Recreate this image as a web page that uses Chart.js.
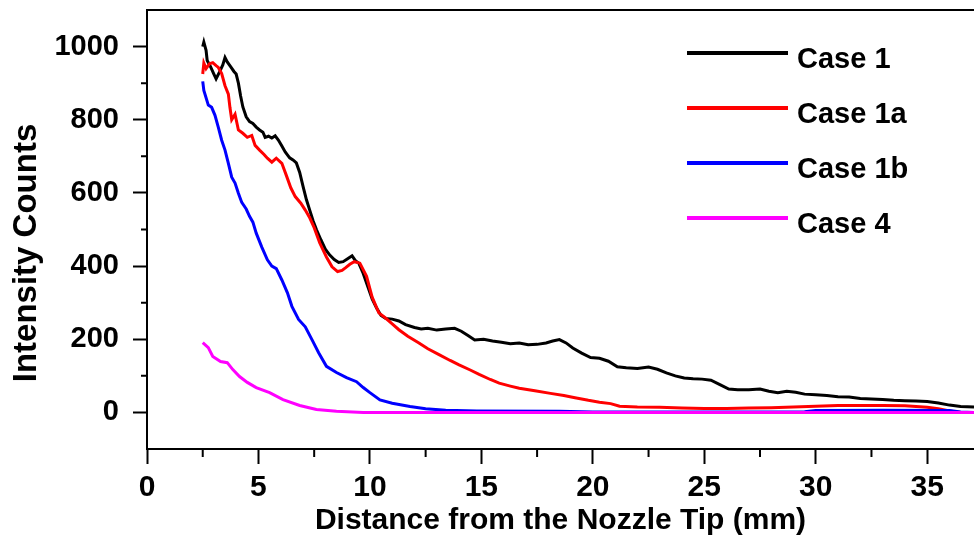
<!DOCTYPE html>
<html>
<head>
<meta charset="utf-8">
<script src="https://cdn.jsdelivr.net/npm/chart.js@4.4.1/dist/chart.umd.min.js"></script>
<style>
  html, body { margin: 0; padding: 0; background: #fff; }
  canvas { display: block; }
</style>
</head>
<body>
<canvas id="chart" width="974" height="540"></canvas>
<script>
// axis ticks
const xTicks = [0, 5, 10, 15, 20, 25, 30, 35];
const xMinorTicks = [2.5, 7.5, 12.5, 17.5, 22.5, 27.5, 32.5];
const yTicks = [0, 200, 400, 600, 800, 1000];
const yMinorTicks = [100, 300, 500, 700, 900];

const seriesNames = ['Case 1', 'Case 1a', 'Case 1b', 'Case 4'];
const seriesColors = ['#000000', '#ff0000', '#0000ff', '#ff00ff'];

// Case 1 (black)
const case1X = [2.5, 2.55, 2.65, 2.7, 2.85, 3.0, 3.1, 3.25, 3.4, 3.5, 3.6, 3.75, 3.9, 4.0, 4.1, 4.2, 4.3, 4.45,
  4.6, 4.75, 4.9, 5.05, 5.2, 5.3, 5.45, 5.6, 5.75, 5.9, 6.05, 6.2, 6.4, 6.55, 6.7, 6.85, 7.0, 7.15, 7.3, 7.45,
  7.6, 7.8, 8.0, 8.2, 8.4, 8.6, 8.8, 9.0, 9.2, 9.35, 9.5, 9.7, 9.9, 10.1, 10.3, 10.5, 10.7, 11.0, 11.3, 11.6,
  12.0, 12.3, 12.6, 13.0, 13.4, 13.8, 14.1, 14.4, 14.7, 15.1, 15.5, 15.9, 16.3, 16.7, 17.1, 17.5, 17.9, 18.2,
  18.5, 18.8, 19.1, 19.5, 19.9, 20.3, 20.7, 21.1, 21.5, 22.0, 22.5, 22.9, 23.3, 23.7, 24.1, 24.5, 24.9, 25.3,
  25.7, 26.1, 26.5, 27.0, 27.5, 27.9, 28.3, 28.7, 29.1, 29.5, 30.0, 30.5, 31.0, 31.5, 32.0, 32.5, 33.0, 33.5,
  34.0, 34.5, 35.0, 35.5, 36.0, 36.5, 37.1];
const case1Y = [1000, 1012, 990, 962, 945, 925, 912, 930, 950, 970, 958, 945, 932, 925, 900, 865, 835, 808,
  795, 790, 780, 772, 766, 752, 755, 750, 756, 744, 728, 712, 696, 690, 682, 656, 618, 582, 553, 524,
  500, 472, 446, 430, 418, 410, 412, 420, 428, 415, 408, 380, 345, 310, 285, 265, 257, 255, 250, 240,
  232, 228, 230, 225, 228, 230, 222, 210, 198, 200, 195, 192, 188, 190, 185, 186, 190, 195,
  199, 190, 176, 162, 150, 148, 140, 125, 122, 120, 124, 118, 108, 100, 94, 92, 91, 88,
  76, 64, 62, 62, 64, 58, 54, 58, 55, 50, 48, 46, 43, 42, 38, 37, 35, 33,
  32, 31, 30, 26, 20, 16, 15];

// Case 1a (red)
const case1aX = [2.5, 2.55, 2.65, 2.8, 2.95, 3.1, 3.2, 3.35, 3.5, 3.65, 3.72, 3.8, 3.95, 4.1, 4.3, 4.5, 4.7,
  4.85, 5.05, 5.25, 5.4, 5.6, 5.8, 6.05, 6.25, 6.45, 6.65, 6.9, 7.1, 7.3, 7.5, 7.75, 8.05, 8.3, 8.55, 8.75,
  8.9, 9.1, 9.3, 9.55, 9.85, 10.1, 10.4, 10.7, 11.0, 11.3, 11.7, 12.2, 12.6, 13.1, 13.6, 14.0, 14.5, 14.9,
  15.4, 15.8, 16.3, 16.7, 17.4, 18.1, 18.7, 19.2, 19.8, 20.3, 20.8, 21.2, 22.0, 23.0, 24.0, 25.0, 26.0, 27.0,
  28.0, 29.0, 30.0, 31.0, 32.0, 33.0, 34.0, 35.0, 35.5, 36.0, 36.5, 37.1];
const case1aY = [925, 955, 940, 953, 956, 948, 943, 926, 893, 870, 834, 800, 815, 772, 763, 752, 757,
  730, 717, 705, 695, 684, 695, 681, 648, 614, 590, 572, 553, 532, 505, 463, 425, 398, 385, 388,
  395, 405, 412, 408, 372, 315, 272, 258, 242, 226, 208, 190, 174, 158, 142, 130, 116, 104,
  90, 80, 72, 66, 59, 52, 46, 40, 33, 28, 24, 17, 15, 14, 12, 11, 11, 12,
  13, 15, 17, 19, 19, 19, 18, 14, 10, 4, 0, 0];

// Case 1b (blue)
const case1bX = [2.5, 2.55, 2.75, 2.9, 3.05, 3.2, 3.35, 3.5, 3.65, 3.8, 3.95, 4.1, 4.25, 4.45, 4.6, 4.75,
  4.9, 5.15, 5.4, 5.6, 5.8, 6.05, 6.3, 6.5, 6.8, 7.1, 7.4, 7.7, 8.05, 8.5, 8.95, 9.4, 9.7, 10.0, 10.45,
  11.0, 11.8, 12.5, 13.4, 14.8, 18.5, 20.0, 25.0, 29.5, 30.0, 33.0, 36.0, 36.5, 37.1];
const case1bY = [905, 880, 840, 834, 812, 779, 744, 717, 681, 643, 627, 599, 574, 556, 536, 520,
  490, 452, 417, 400, 393, 362, 327, 290, 254, 234, 199, 163, 126, 109, 95, 84, 68, 54, 34,
  25, 16, 10, 6, 4, 3, 1, 1, 2, 5, 6, 5, 1, 0];

// Case 4 (magenta)
const case4X = [2.5, 2.75, 2.95, 3.3, 3.6, 3.85, 4.15, 4.5, 4.9, 5.5, 6.1, 6.85, 7.6, 8.5, 9.7, 15, 20, 25, 30, 37.1];
const case4Y = [191, 177, 153, 139, 136, 117, 98, 82, 68, 54, 35, 19, 8, 3, 0, 0, 0, 0, 0, 0];

const seriesX = [case1X, case1aX, case1bX, case4X];
const seriesY = [case1Y, case1aY, case1bY, case4Y];

const fontFamily = '"Liberation Sans", Arial, sans-serif';

// minor ticks, top frame line, y title and legend
const decorPlugin = {
  id: 'decor',
  afterDraw(chart) {
    const ctx = chart.ctx;
    const area = chart.chartArea;
    const xs = chart.scales.x;
    const ys = chart.scales.y;
    ctx.save();
    ctx.strokeStyle = '#000';
    ctx.lineWidth = 2;
    ctx.beginPath();
    ctx.moveTo(area.left, area.top);
    ctx.lineTo(area.right, area.top);
    xMinorTicks.forEach(v => {
      const px = xs.getPixelForValue(v);
      ctx.moveTo(px, area.bottom);
      ctx.lineTo(px, area.bottom + 8);
    });
    yMinorTicks.forEach(v => {
      const py = ys.getPixelForValue(v);
      ctx.moveTo(area.left, py);
      ctx.lineTo(area.left - 6, py);
    });
    ctx.stroke();

    // y axis title
    ctx.fillStyle = '#000';
    ctx.font = 'bold 33px ' + fontFamily;
    ctx.textAlign = 'center';
    ctx.textBaseline = 'middle';
    ctx.translate(27, 253);
    ctx.rotate(-Math.PI / 2);
    ctx.fillText('Intensity Counts', 0, 0);
    ctx.restore();

    // legend
    ctx.save();
    ctx.font = 'bold 29px ' + fontFamily;
    ctx.textAlign = 'left';
    ctx.textBaseline = 'alphabetic';
    seriesNames.forEach((name, i) => {
      const y = 53 + i * 55;
      ctx.strokeStyle = seriesColors[i];
      ctx.lineWidth = 4;
      ctx.beginPath();
      ctx.moveTo(687, y);
      ctx.lineTo(788, y);
      ctx.stroke();
      ctx.fillStyle = '#000';
      ctx.fillText(name, 797, y + 15);
    });
    ctx.restore();
  }
};

const datasets = seriesNames.map((name, i) => ({
  label: name,
  data: seriesX[i].map((x, j) => ({ x: x, y: seriesY[i][j] })),
  borderColor: seriesColors[i],
  backgroundColor: seriesColors[i],
  borderWidth: 3,
  pointRadius: 0,
  tension: 0,
  order: 4 - i
}));

new Chart(document.getElementById('chart'), {
  type: 'line',
  data: { datasets: datasets },
  plugins: [decorPlugin],
  options: {
    responsive: false,
    animation: false,
    layout: { padding: { top: 10, right: 0, left: 0, bottom: 0 } },
    plugins: {
      legend: { display: false },
      tooltip: { enabled: false }
    },
    scales: {
      x: {
        type: 'linear',
        min: 0,
        max: 37.1,
        afterBuildTicks: s => { s.ticks = xTicks.map(v => ({ value: v })); },
        afterFit: s => { s.height = 91; s.paddingLeft = 0; s.paddingRight = 0; },
        border: { display: true, color: '#000', width: 2 },
        grid: { drawOnChartArea: false, drawTicks: true, tickLength: 15, tickWidth: 2, tickColor: '#000' },
        ticks: {
          color: '#000',
          padding: 6,
          maxRotation: 0,
          autoSkip: false,
          callback: v => String(v),
          font: { family: fontFamily, weight: 'bold', size: 30 }
        },
        title: {
          display: true,
          text: 'Distance from the Nozzle Tip (mm)',
          color: '#000',
          padding: { top: 0, bottom: 1 },
          font: { family: fontFamily, weight: 'bold', size: 30 }
        }
      },
      y: {
        min: -100,
        max: 1100,
        afterBuildTicks: s => { s.ticks = yTicks.map(v => ({ value: v })); },
        afterFit: s => { s.width = 147; s.paddingTop = 0; s.paddingBottom = 0; },
        border: { display: true, color: '#000', width: 2 },
        grid: { drawOnChartArea: false, drawTicks: true, tickLength: 14, tickWidth: 2, tickColor: '#000' },
        ticks: {
          color: '#000',
          padding: 14,
          callback: v => String(v),
          font: { family: fontFamily, weight: 'bold', size: 29 }
        }
      }
    }
  }
});
</script>
</body>
</html>
